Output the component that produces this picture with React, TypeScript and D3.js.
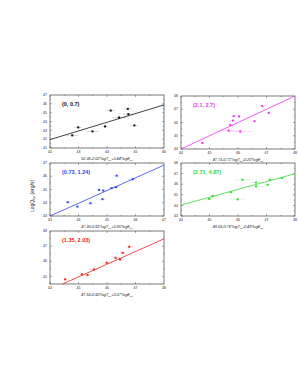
import React from 'react'
import * as d3 from 'd3'

// panel 1 (black)
const p1X = [42.78, 42.99, 43.49, 43.93, 44.13, 44.42, 44.73, 44.75, 44.96]
const p1Y = [42.43, 43.33, 42.88, 43.44, 45.24, 44.45, 45.43, 44.83, 43.55]
const p1Err = [0.2, 0.12, 0.22, 0.1, 0.15, 0.25, 0.15, 0.2, 0.12]
const p1Line = [[42, 41.95], [46, 45.88]]

// panel 2 (magenta)
const p2X = [44.75, 45.67, 45.73, 45.82, 45.85, 46.04, 46.08, 46.58, 46.85, 47.08]
const p2Y = [44.46, 45.39, 45.82, 46.15, 46.48, 46.46, 45.32, 46.1, 47.24, 46.73]
const p2Err = [0.05, 0.45, 0.1, 0.08, 0.08, 0.05, 0.4, 0.05, 0.1, 0.05]
const p2Line = [[44, 44], [48, 48]]

// panel 3 (blue)
const p3X = [43.62, 43.96, 44.42, 44.72, 44.84, 44.87, 45.16, 45.32, 45.34, 45.9]
const p3Y = [44.04, 43.71, 43.96, 44.97, 44.27, 44.92, 45.1, 45.18, 46.04, 45.78]
const p3Err = [0.08, 0.05, 0.1, 0.08, 0.12, 0.1, 0.12, 0.1, 0.1, 0.15]
const p3Line = [[43, 43], [47, 46.84]]

// panel 4 (green)
const p4X = [44.99, 45.11, 45.75, 45.99, 46.16, 46.63, 46.63, 47.04, 47.12, 47.54]
const p4Y = [44.61, 44.89, 45.25, 44.58, 46.42, 46.16, 45.78, 45.94, 46.42, 46.58]
const p4Err = [0.1, 0.1, 0.15, 0.3, 0.3, 0.2, 0.3, 0.1, 0.15, 0.1]
const p4Line = [[44, 44.03], [48, 46.99]]

// panel 5 (red)
const p5X = [44.53, 45.12, 45.32, 45.54, 45.99, 46.3, 46.46, 46.55, 46.78]
const p5Y = [44.81, 45.14, 45.09, 45.46, 45.9, 46.23, 46.12, 46.56, 46.96]
const p5Err = [0.05, 0.12, 0.1, 0.15, 0.2, 0.15, 0.1, 0.1, 0.15]
const p5Line = [[44.44, 44.5], [48, 47.48]]

const xTitles = [
  ['52.36-2.02*logT', '+0.44*logE'],
  ['47.73-0.71*logT', '-0.20*logE'],
  ['47.30-0.61*logT', '+0.35*logE'],
  ['49.59-0.76*logT', '-0.49*logE'],
  ['47.53-0.60*logT', '+0.37*logE'],
]
const labels = ['(0, 0.7)', '(2.1, 2.7)', '(0.73, 1.24)', '(2.71, 4.87)', '(1.35, 2.03)']
const colors = ['#111111', '#ee33ee', '#3344ee', '#33dd33', '#ee2222']

const panels = [
  { x: p1X, y: p1Y, err: p1Err, line: p1Line, xd: [42, 46], yd: [41, 47], left: 50, top: 95 },
  { x: p2X, y: p2Y, err: p2Err, line: p2Line, xd: [44, 48], yd: [44, 48], left: 181, top: 96 },
  { x: p3X, y: p3Y, err: p3Err, line: p3Line, xd: [43, 47], yd: [43, 47], left: 50, top: 163 },
  { x: p4X, y: p4Y, err: p4Err, line: p4Line, xd: [44, 48], yd: [43, 48], left: 181, top: 163 },
  { x: p5X, y: p5Y, err: p5Err, line: p5Line, xd: [44, 48], yd: [44.5, 48], left: 50, top: 231 },
]

const W = 114
const H = 53

const Panel = ({ p, i }: { p: any; i: number }) => {
  const x = d3.scaleLinear().domain(p.xd).range([0, W])
  const y = d3.scaleLinear().domain(p.yd).range([H, 0])
  const c = colors[i]
  const xt = d3.range(p.xd[0], p.xd[1] + 0.01, 1)
  const yt = d3.range(Math.ceil(p.yd[0]), p.yd[1] + 0.01, 1)
  const xm = d3.range(p.xd[0], p.xd[1], 0.5)
  const ym = d3.range(Math.ceil(p.yd[0] * 2) / 2, p.yd[1], 0.5)
  const lineGen = d3.line<number[]>().x((d) => x(d[0])).y((d) => y(d[1]))
  return (
    <g transform={`translate(${p.left},${p.top})`}>
      <rect width={W} height={H} fill='none' stroke='#222' strokeWidth={0.6} />
      {xm.map((t) => (
        <g key={'xm' + t}>
          <line x1={x(t)} x2={x(t)} y1={H} y2={H - (Number.isInteger(t) ? 2 : 1)} stroke='#333' strokeWidth={0.4} />
          <line x1={x(t)} x2={x(t)} y1={0} y2={Number.isInteger(t) ? 2 : 1} stroke='#333' strokeWidth={0.4} />
        </g>
      ))}
      {ym.map((t) => (
        <g key={'ym' + t}>
          <line x1={0} x2={Number.isInteger(t) ? 2 : 1} y1={y(t)} y2={y(t)} stroke='#333' strokeWidth={0.4} />
          <line x1={W} x2={W - (Number.isInteger(t) ? 2 : 1)} y1={y(t)} y2={y(t)} stroke='#333' strokeWidth={0.4} />
        </g>
      ))}
      {xt.map((t) => (
        <text key={'xt' + t} x={x(t)} y={H + 5} fontSize={3.5} textAnchor='middle' fill='#222'>{t}</text>
      ))}
      {yt.map((t) => (
        <text key={'yt' + t} x={-3} y={y(t) + 1.2} fontSize={3.5} textAnchor='end' fill='#222'>{t}</text>
      ))}
      <path d={lineGen(p.line) || ''} stroke={c} strokeWidth={0.8} fill='none' />
      {p.x.map((v: number, j: number) => (
        <g key={j}>
          <line x1={x(v - p.err[j])} x2={x(v + p.err[j])} y1={y(p.y[j])} y2={y(p.y[j])} stroke={c} strokeOpacity={0.35} strokeWidth={0.5} />
          <line x1={x(v)} x2={x(v)} y1={y(p.y[j] - p.err[j] * 0.5)} y2={y(p.y[j] + p.err[j] * 0.5)} stroke={c} strokeOpacity={0.35} strokeWidth={0.5} />
          <rect x={x(v) - 1} y={y(p.y[j]) - 1} width={2} height={2} fill={c} />
        </g>
      ))}
      <text x={12} y={11} fontSize={5.5} fontWeight='bold' fill={c}>{labels[i]}</text>
      <text x={W / 2} y={H + 12} fontSize={3.8} fontStyle='italic' textAnchor='middle' fill='#222'>
        {xTitles[i][0]}
        <tspan fontSize={2.5} dy={1}>tur</tspan>
        <tspan dy={-1}>{xTitles[i][1]}</tspan>
        <tspan fontSize={2.5} dy={1}>tur</tspan>
      </text>
    </g>
  )
}

const App = () => {
  return (
    <svg width={298} height={385} style={{ position: 'absolute', left: 0, top: 0, background: '#fff' }} fontFamily='Liberation Sans, Arial, sans-serif'>
      {panels.map((p, i) => (
        <Panel key={i} p={p} i={i} />
      ))}
      <text transform='translate(34,196) rotate(-90)' fontSize={5} textAnchor='middle' fill='#222'>
        LogQ<tspan fontSize={3.5} dy={1}>tur</tspan>
        <tspan dy={-1}> (erg/s)</tspan>
      </text>
    </svg>
  )
}

export default App
